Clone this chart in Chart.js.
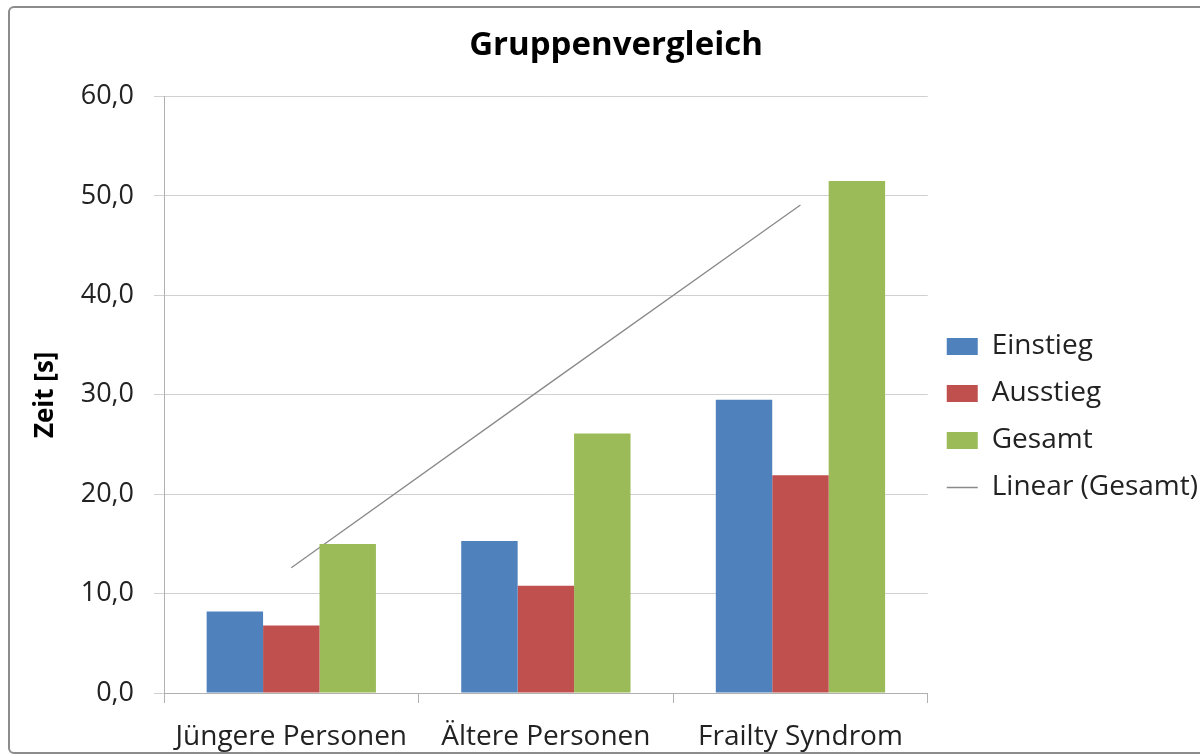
<!DOCTYPE html>
<html>
<head>
<meta charset="utf-8">
<script src="https://cdn.jsdelivr.net/npm/chart.js@4"></script>
<style>
    body { margin: 0; background: #fff; }
    #frame { position: absolute; left: 8px; top: 6px; width: 1210px; height: 744px; border: 2px solid #8c8c8c; border-radius: 6px; }
    #wrap { position: absolute; left: 0; top: 0; width: 1200px; height: 756px; }
</style>
</head>
<body>
<div id="frame"></div>
<div id="wrap"><canvas id="chart" width="1200" height="756"></canvas></div>
<script>
// Daten
const gruppen = ['Jüngere Personen', 'Ältere Personen', 'Frailty Syndrom'];
const einstieg = [8.2, 15.3, 29.5];
const ausstieg = [6.8, 10.8, 21.9];
const gesamt = [15.0, 26.1, 51.5];
const trendGesamt = [12.6, 30.9, 49.1]; // Linear (Gesamt)

const yMin = 0;
const yMax = 60;
const yStep = 10;

document.addEventListener('DOMContentLoaded', () => {
    const ctx = document.getElementById('chart').getContext('2d');
    Chart.defaults.font.family = '"Open Sans", sans-serif';
    Chart.defaults.color = '#222';

    new Chart(ctx, {
        type: 'bar',
        data: {
            labels: gruppen,
            datasets: [
                { label: 'Einstieg', data: einstieg, backgroundColor: '#4F81BD', pointStyle: 'rect', borderWidth: 0 },
                { label: 'Ausstieg', data: ausstieg, backgroundColor: '#C0504D', pointStyle: 'rect', borderWidth: 0 },
                { label: 'Gesamt', data: gesamt, backgroundColor: '#9BBB59', pointStyle: 'rect', borderWidth: 0 },
                {
                    type: 'line',
                    label: 'Linear (Gesamt)',
                    data: trendGesamt,
                    borderColor: '#8a8a8a',
                    backgroundColor: '#8a8a8a',
                    borderWidth: 1.3,
                    pointRadius: 0,
                    pointStyle: 'line',
                    fill: false
                }
            ]
        },
        options: {
            responsive: false,
            animation: false,
            layout: { padding: { left: 24, right: -8, top: 0, bottom: 0 } },
            datasets: {
                bar: { categoryPercentage: 0.665, barPercentage: 1.0 }
            },
            plugins: {
                title: {
                    display: true,
                    text: 'Gruppenvergleich',
                    color: '#000',
                    font: { size: 33, weight: 'bold' },
                    padding: { top: 26, bottom: 31 }
                },
                legend: {
                    position: 'right',
                    title: {
                        display: true,
                        text: '',
                        font: { size: 10 },
                        padding: { top: 33, bottom: 33 }
                    },
                    labels: {
                        usePointStyle: true,
                        pointStyleWidth: 31,
                        boxHeight: 17,
                        padding: 19,
                        color: '#222',
                        font: { size: 28 }
                    }
                },
                tooltip: { enabled: false }
            },
            scales: {
                x: {
                    grid: { drawOnChartArea: false, drawTicks: true, tickLength: 10, color: '#b0b0b0' },
                    border: { color: '#b0b0b0' },
                    ticks: { font: { size: 28 }, padding: 17, color: '#222', maxRotation: 0 },
                    afterFit: (scale) => { scale.height = 63; }
                },
                y: {
                    min: yMin,
                    max: yMax,
                    title: {
                        display: true,
                        text: 'Zeit [s]',
                        color: '#000',
                        font: { size: 26, weight: 'bold' },
                        padding: { top: 6, bottom: 0 }
                    },
                    grid: { color: '#d0d0d0', tickLength: 10, drawTicks: true },
                    border: { color: '#b0b0b0' },
                    ticks: {
                        stepSize: yStep,
                        font: { size: 27 },
                        padding: 20,
                        color: '#222',
                        callback: (v) => v.toFixed(1).replace('.', ',')
                    },
                    afterFit: (scale) => { scale.width = 140; }
                }
            }
        }
    });
});
</script>
</body>
</html>
